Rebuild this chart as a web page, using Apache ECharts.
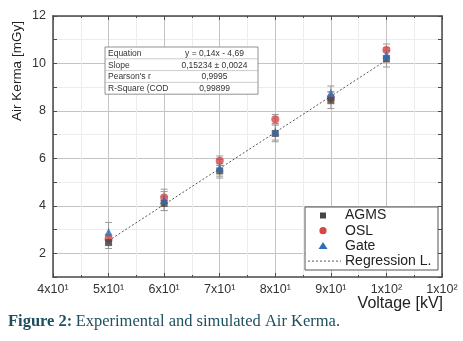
<!DOCTYPE html>
<html><head><meta charset="utf-8">
<script src="https://cdn.jsdelivr.net/npm/echarts@6/dist/echarts.min.js"></script>
<style>html,body{margin:0;padding:0;background:#fff}#c{width:463px;height:341px}</style>
</head><body><div id="c"></div>
<script>
// ---- data ----
const voltages = [50, 60, 70, 80, 90, 100];
const agms = [2.45, 4.1, 5.47, 7.05, 8.45, 10.2];
const agmsErr = [0.25, 0.3, 0.3, 0.35, 0.35, 0.35];
const osl = [2.6, 4.35, 5.9, 7.65, 8.55, 10.57];
const oslErr = [0.2, 0.25, 0.2, 0.2, 0.25, 0.25];
const gate = [2.9, 4.25, 5.6, 7.12, 8.75, 10.36];
const gateErr = [0.4, 0.45, 0.35, 0.35, 0.3, 0.3];
const regX = [50, 100];
const regY = [2.53, 10.14];
const xTickValues = [40, 50, 60, 70, 80, 90, 100, 110];
const xTickLabels = ['4x10\u00b9', '5x10\u00b9', '6x10\u00b9', '7x10\u00b9', '8x10\u00b9', '9x10\u00b9', '1x10\u00b2', '1x10\u00b2'];
const yTickLabels = ['2', '4', '6', '8', '10', '12'];
const legendNames = ['AGMS', 'OSL', 'Gate', 'Regression L.'];
const tableRows = [['Equation', 'y = 0,14x - 4,69'], ['Slope', '0,15234 \u00b1 0,0024'], ["Pearson's r", '0,9995'], ['R-Square (COD', '0,99899']];

const chart = echarts.init(document.getElementById('c'));
const F = 'Liberation Sans, Arial, sans-serif';
const axisCol = '#4a4a4a';
const colAGMS = '#454545', colOSL = '#d24848', colGate = '#2f6db8';

function pts(ys) { return voltages.map((v, i) => [v, ys[i]]); }
function errSeries(ys, errs, z) {
  return {
    type: 'custom', silent: true, z: z,
    data: voltages.map((v, i) => [v, ys[i] - errs[i], ys[i] + errs[i]]),
    renderItem: function (params, api) {
      const lo = api.coord([api.value(0), api.value(1)]);
      const hi = api.coord([api.value(0), api.value(2)]);
      const w = 3.5;
      const st = { stroke: '#9a9a9a', lineWidth: 1 };
      return { type: 'group', children: [
        { type: 'line', shape: { x1: lo[0], y1: lo[1], x2: hi[0], y2: hi[1] }, style: st },
        { type: 'line', shape: { x1: lo[0] - w, y1: lo[1], x2: lo[0] + w, y2: lo[1] }, style: st },
        { type: 'line', shape: { x1: hi[0] - w, y1: hi[1], x2: hi[0] + w, y2: hi[1] }, style: st }
      ] };
    }
  };
}

// table graphic
const Z = 100;
const tX = 105, tY = 47, rowH = 11.8, tW = 153, col1 = 62;
const tableChildren = [{ type: 'rect', z: Z, shape: { x: 0, y: 0, width: tW, height: rowH * 4 }, style: { fill: '#fff', stroke: '#777', lineWidth: 0.8 } }];
tableRows.forEach((r, i) => {
  if (i > 0) tableChildren.push({ type: 'line', z: Z + 1, shape: { x1: 0, y1: rowH * i, x2: tW, y2: rowH * i }, style: { stroke: '#aaa', lineWidth: 0.6 } });
  tableChildren.push({ type: 'text', z: Z + 2, x: 3, y: rowH * i + rowH / 2 + 0.5, style: { text: r[0], font: '8.5px ' + F, fill: '#333', verticalAlign: 'middle' } });
  tableChildren.push({ type: 'text', z: Z + 2, x: col1 + (tW - col1) / 2 + 2, y: rowH * i + rowH / 2 + 0.5, style: { text: r[1], font: '8.5px ' + F, fill: '#333', verticalAlign: 'middle', align: 'center' } });
});

// legend graphic
const lX = 305, lY = 207, lW = 133, lH = 63, lRow = 15.2;
const legendChildren = [{ type: 'rect', z: Z, shape: { x: 0, y: 0, width: lW, height: lH }, style: { fill: '#fff', stroke: '#555', lineWidth: 1 } }];
const iconX = 18, textX = 40;
legendNames.forEach((n, i) => {
  const cy = 8.5 + lRow * i;
  legendChildren.push({ type: 'text', z: Z + 2, x: textX, y: cy, style: { text: n, font: '14px ' + F, fill: '#222', verticalAlign: 'middle' } });
});
legendChildren.push({ type: 'rect', z: Z + 2, shape: { x: iconX - 3, y: 8.5 - 3, width: 6, height: 6 }, style: { fill: colAGMS } });
legendChildren.push({ type: 'circle', z: Z + 2, shape: { cx: iconX, cy: 8.5 + lRow, r: 3.6 }, style: { fill: colOSL } });
legendChildren.push({ type: 'polygon', z: Z + 2, shape: { points: [[iconX, 8.5 + lRow * 2 - 4], [iconX + 4.5, 8.5 + lRow * 2 + 3], [iconX - 4.5, 8.5 + lRow * 2 + 3]] }, style: { fill: colGate } });
legendChildren.push({ type: 'line', z: Z + 2, shape: { x1: 3, y1: 8.5 + lRow * 3, x2: 36, y2: 8.5 + lRow * 3 }, style: { stroke: '#555', lineWidth: 1, lineDash: [2, 2] } });

chart.setOption({
  animation: false,
  grid: { left: 53, right: 21, top: 16, bottom: 64 },
  xAxis: [{
    type: 'value', min: 40, max: 110, interval: 10,
    axisLine: { show: true, onZero: false, lineStyle: { color: axisCol, width: 1.5 } },
    axisTick: { show: true, inside: true, length: 4, lineStyle: { color: axisCol } },
    minorTick: { show: true, splitNumber: 2, length: 2, lineStyle: { color: axisCol } },
    axisLabel: { color: '#333', fontSize: 12.5, fontFamily: F, margin: 6,
      formatter: v => xTickLabels[xTickValues.indexOf(v)] },
    splitLine: { show: true, lineStyle: { color: '#c4c4c4', width: 1 } },
    minorSplitLine: { show: true, lineStyle: { color: '#ececec', width: 1 } }
  }, {
    type: 'value', min: 40, max: 110, interval: 10, position: 'top',
    axisLine: { show: true, onZero: false, lineStyle: { color: axisCol, width: 1.5 } },
    axisTick: { show: true, inside: true, length: 4, lineStyle: { color: axisCol } },
    minorTick: { show: true, splitNumber: 2, length: 2, lineStyle: { color: axisCol } },
    axisLabel: { show: false }, splitLine: { show: false }
  }],
  yAxis: [{
    type: 'value', min: 1, max: 12, interval: 1,
    axisLine: { show: true, onZero: false, lineStyle: { color: axisCol, width: 1.5 } },
    axisTick: { show: true, inside: true, length: 4, lineStyle: { color: axisCol } },
    axisLabel: { color: '#333', fontSize: 12.5, fontFamily: F, margin: 7,
      formatter: v => { const s = String(v); return yTickLabels.indexOf(s) >= 0 ? s : ''; } },
    splitLine: { show: true, lineStyle: { color: ['#ececec', '#c4c4c4'], width: 1 } }
  }, {
    type: 'value', min: 1, max: 12, interval: 1, position: 'right',
    axisLine: { show: true, onZero: false, lineStyle: { color: axisCol, width: 1.5 } },
    axisTick: { show: true, inside: true, length: 4, lineStyle: { color: axisCol } },
    axisLabel: { show: false }, splitLine: { show: false }
  }],
  series: [
    { name: 'Regression L.', type: 'line', data: regX.map((x, i) => [x, regY[i]]), symbol: 'none', z: 3,
      lineStyle: { color: '#555', width: 1, type: [2, 2] } },
    errSeries(agms, agmsErr, 2), errSeries(osl, oslErr, 2), errSeries(gate, gateErr, 2),
    { name: 'AGMS', type: 'scatter', data: pts(agms), symbol: 'rect', symbolSize: 7, z: 5, itemStyle: { color: colAGMS } },
    { name: 'OSL', type: 'scatter', data: pts(osl), symbol: 'circle', symbolSize: 8, z: 4, itemStyle: { color: colOSL } },
    { name: 'Gate', type: 'scatter', data: pts(gate), symbol: 'triangle', symbolSize: 8, z: 6, itemStyle: { color: colGate } }
  ],
  graphic: [
    { type: 'group', x: tX, y: tY, children: tableChildren },
    { type: 'group', x: lX, y: lY, children: legendChildren },
    { type: 'text', x: 17, y: 71, rotation: Math.PI / 2, z: Z,
      style: { text: 'Air Kerma [mGy]', font: '13.5px ' + F, fill: '#222', align: 'center', verticalAlign: 'middle' } },
    { type: 'text', x: 443, y: 304, z: Z,
      style: { text: 'Voltage [kV]', font: '16px ' + F, fill: '#222', align: 'right', verticalAlign: 'middle' } },
    { type: 'text', x: 8, y: 322, z: Z,
      style: { text: '{b|Figure 2:} {n|Experimental and simulated Air Kerma.}', verticalAlign: 'middle',
        rich: { b: { font: 'bold 16.5px Liberation Serif, serif', fill: '#1d4f5f' },
                n: { font: '16.5px Liberation Serif, serif', fill: '#1d4f5f' } } } }
  ]
});
</script></body></html>
